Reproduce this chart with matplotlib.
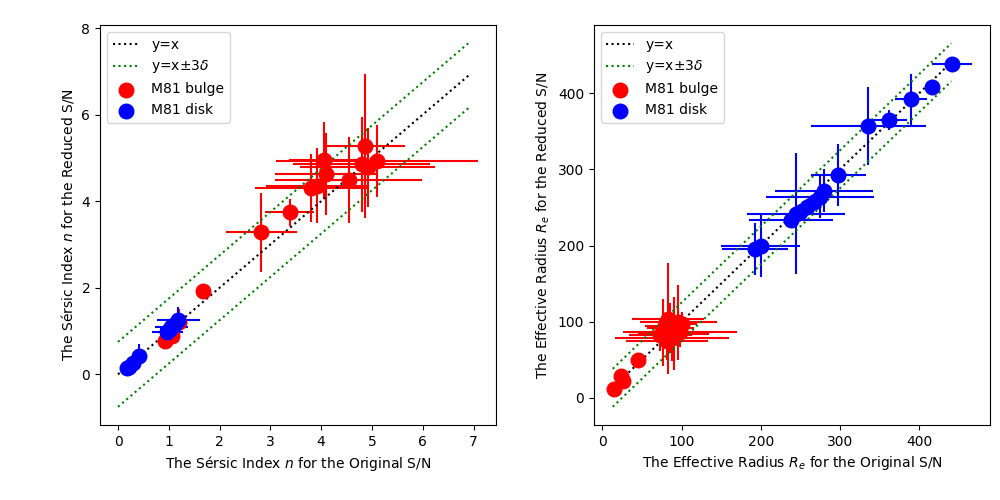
import numpy as np
import matplotlib
matplotlib.use("Agg")
import matplotlib.pyplot as plt

# Sersic index n (original vs reduced S/N)
bulge_n_orig = [0.93, 1.07, 1.20, 1.68, 2.82, 3.38, 3.80, 3.92, 4.05, 4.10, 4.54, 4.80, 4.86, 4.92, 5.10]
bulge_n_red = [0.76, 0.88, 1.22, 1.92, 3.28, 3.74, 4.30, 4.36, 4.94, 4.63, 4.49, 4.85, 5.28, 4.78, 4.93]
bulge_n_xerr = [0.05, 0.05, 0.10, 0.05, 0.70, 0.48, 1.10, 1.00, 0.68, 1.00, 1.45, 1.35, 0.80, 1.33, 1.99]
bulge_n_yerr = [0.05, 0.05, 0.30, 0.05, 0.92, 0.32, 0.78, 0.87, 0.90, 0.94, 1.00, 1.10, 1.66, 0.92, 0.83]

disk_n_orig = [0.17, 0.22, 0.30, 0.42, 0.97, 1.02, 1.05, 1.12, 1.19]
disk_n_red = [0.15, 0.18, 0.26, 0.42, 0.98, 1.05, 1.10, 1.17, 1.25]
disk_n_xerr = [0.03, 0.03, 0.05, 0.05, 0.31, 0.20, 0.33, 0.15, 0.43]
disk_n_yerr = [0.03, 0.03, 0.05, 0.27, 0.10, 0.10, 0.10, 0.10, 0.30]

# Effective radius Re
bulge_re_orig = [14, 23, 26, 45, 73, 77, 82, 83, 86, 90, 96, 100, 98, 88, 79]
bulge_re_red = [11, 28, 22, 50, 82, 86, 75, 104, 92, 84, 99, 97, 86, 78, 94]
bulge_re_xerr = [2, 3, 3, 3, 40, 45, 52, 45, 30, 45, 49, 20, 72, 72, 25]
bulge_re_yerr = [2, 3, 3, 3, 20, 44, 25, 73, 33, 48, 49, 15, 20, 30, 15]

disk_re_orig = [193, 200, 238, 245, 250, 258, 267, 275, 280, 298, 336, 362, 390, 416, 442]
disk_re_red = [195, 200, 233, 242, 244, 251, 257, 264, 272, 293, 357, 365, 392, 409, 438]
disk_re_xerr = [42, 50, 53, 62, 10, 10, 10, 68, 62, 35, 73, 23, 20, 3, 25]
disk_re_yerr = [34, 42, 10, 80, 10, 10, 10, 28, 28, 41, 51, 13, 34, 3, 10]

# one-to-one line ranges and 3 sigma offsets
line_n = [0, 6.9]
line_re = [13, 441]
three_delta_n = 0.75
three_delta_re = 25


def draw_panel(ax, b_x, b_y, b_xe, b_ye, d_x, d_y, d_xe, d_ye, line_x, tdelta):
    ax.errorbar(b_x, b_y, xerr=b_xe, yerr=b_ye, fmt='none', ecolor='red', elinewidth=1.5, zorder=2)
    ax.errorbar(d_x, d_y, xerr=d_xe, yerr=d_ye, fmt='none', ecolor='blue', elinewidth=1.5, zorder=2)
    lx = np.array(line_x)
    ax.plot(lx, lx, 'k:', label='y=x', zorder=3)
    ax.plot(lx, lx + tdelta, 'g:', label=r'y=x$\pm3\delta$', zorder=3)
    ax.plot(lx, lx - tdelta, 'g:', zorder=3)
    ax.scatter(b_x, b_y, s=110, color='red', label='M81 bulge', zorder=4)
    ax.scatter(d_x, d_y, s=110, color='blue', label='M81 disk', zorder=4)
    ax.legend(loc='upper left')


fig, (ax1, ax2) = plt.subplots(1, 2, figsize=(10, 5))

draw_panel(ax1, bulge_n_orig, bulge_n_red, bulge_n_xerr, bulge_n_yerr,
           disk_n_orig, disk_n_red, disk_n_xerr, disk_n_yerr, line_n, three_delta_n)
ax1.set_xlabel('The Sérsic Index $n$ for the Original S/N')
ax1.set_ylabel('The Sérsic Index $n$ for the Reduced S/N')

draw_panel(ax2, bulge_re_orig, bulge_re_red, bulge_re_xerr, bulge_re_yerr,
           disk_re_orig, disk_re_red, disk_re_xerr, disk_re_yerr, line_re, three_delta_re)
ax2.set_xlabel('The Effective Radius $R_e$ for the Original S/N')
ax2.set_ylabel('The Effective Radius $R_e$ for the Reduced S/N')

plt.subplots_adjust(left=0.1, right=0.99, bottom=0.15, top=0.95, wspace=0.247)
plt.savefig('out.png', dpi=100)
